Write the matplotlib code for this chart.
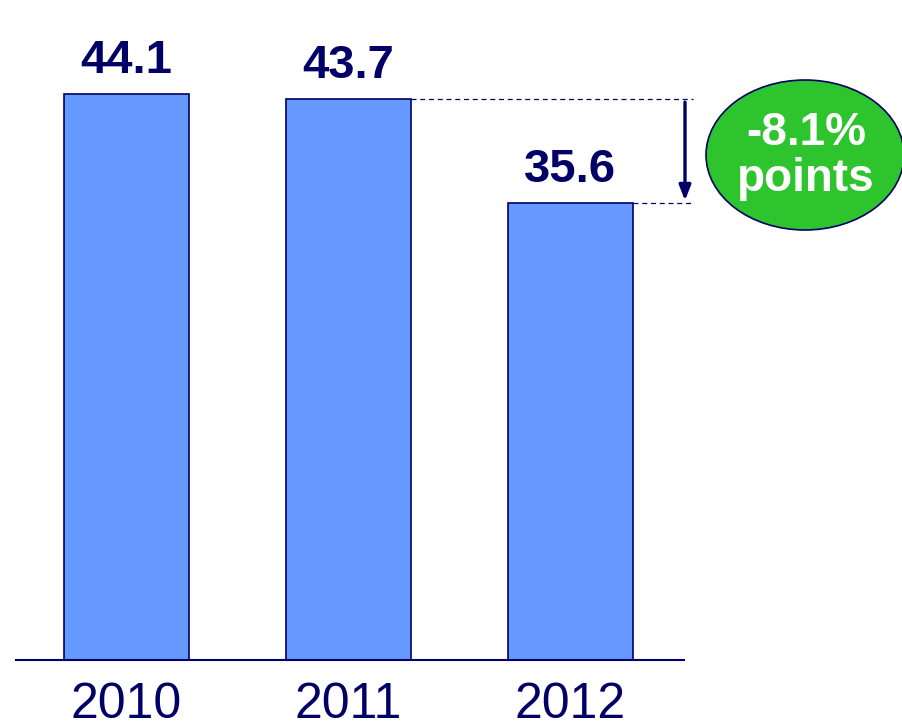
import matplotlib.pyplot as plt
from matplotlib.patches import Ellipse

years = ["2010", "2011", "2012"]
values = [44.1, 43.7, 35.6]
change_label = "-8.1%\npoints"

navy = "#000066"
bar_blue = "#6699FF"
green = "#2DC42D"

plt.rcParams["font.family"] = ["Liberation Sans", "DejaVu Sans"]

fig = plt.figure(figsize=(9.03, 7.28), dpi=100)
ax = fig.add_axes([15 / 903, 1 - 660 / 728, 888 / 903, 660 / 728])

x = list(range(len(years)))
bw = 0.56
ax.bar(x, values, width=bw, color=bar_blue, edgecolor=navy, linewidth=1.2, zorder=2)

for xi, v in zip(x, values):
    ax.annotate(f"{v:.1f}", (xi, v), xytext=(0, 8), textcoords="offset points",
                ha="center", va="bottom", fontsize=34, fontweight="bold", color=navy)

ax.set_xlim(-0.502, 3.498)
ax.set_ylim(0, 51.45)
ax.hlines(0, -0.502, 2.514, color=navy, linewidth=1.5, zorder=3, clip_on=False)

# dashed guides and arrow showing the drop
x_end = 2.55
ax.hlines(values[1], x[1] + bw / 2, x_end, colors=navy, linestyles=(0, (4, 3)), linewidth=0.9)
ax.hlines(values[2], x[2] + bw / 2, x_end, colors=navy, linestyles=(0, (4, 3)), linewidth=0.9)
ax.annotate("", xy=(2.516, values[2]), xytext=(2.516, values[1]),
            arrowprops=dict(arrowstyle="-|>,head_width=0.35,head_length=0.9",
                            color=navy, lw=2.4))

ell = Ellipse((805 / 903, 1 - 155 / 728), 198 / 903, 150 / 728, transform=fig.transFigure,
              facecolor=green, edgecolor=navy, linewidth=1.2)
fig.patches.append(ell)
fig.text(806 / 903, 1 - 156 / 728, change_label, ha="center", va="center",
         fontsize=33, fontweight="bold", color="white", linespacing=1.05)

ax.set_xticks(x)
ax.set_xticklabels(years, fontsize=36, color=navy)
ax.tick_params(axis="x", length=0, pad=16)
ax.set_yticks([])
for s in ax.spines.values():
    s.set_visible(False)

fig.text(22 / 903, 1 + 8 / 728, "%", ha="left", va="center", fontsize=20, color=navy)

fig.savefig("out.png", dpi=100)
